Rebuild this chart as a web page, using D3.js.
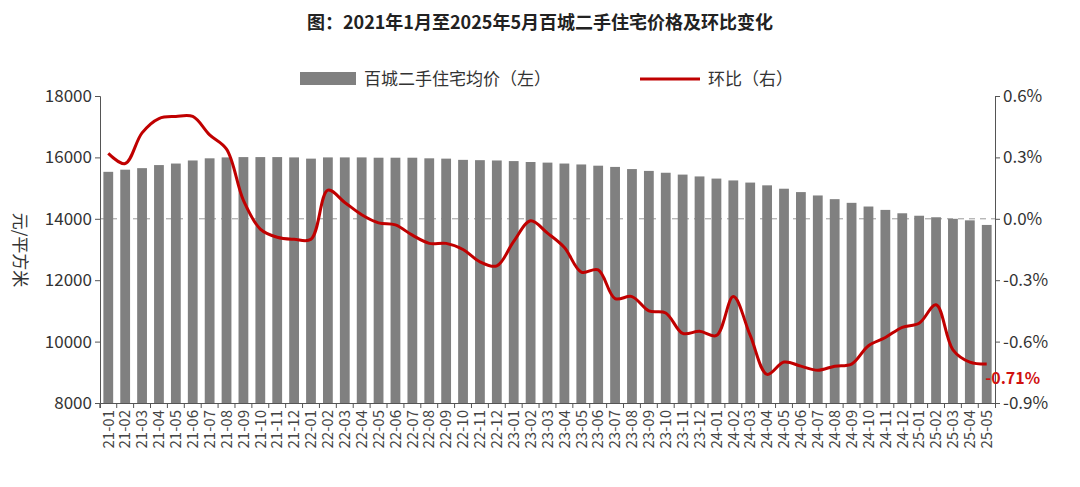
<!DOCTYPE html><html><head><meta charset="utf-8"><script src="https://cdn.jsdelivr.net/npm/d3@7"></script>
<style>body{margin:0;background:#fff}text{font-family:"Noto Sans CJK SC","Liberation Sans",sans-serif}</style></head><body><svg id="c" width="1080" height="487"></svg><script>
const months=[];for(let y=21;y<=25;y++)for(let m=1;m<=12;m++){if(y===25&&m>5)break;months.push(y+"-"+String(m).padStart(2,"0"));}
const prices=[15530,15600,15650,15750,15800,15900,15970,16000,16010,16010,16010,16000,15960,16000,16000,16000,15990,15990,15990,15970,15960,15920,15910,15900,15880,15850,15830,15800,15770,15730,15690,15620,15560,15500,15440,15380,15310,15250,15180,15090,14980,14870,14760,14640,14520,14400,14290,14180,14100,14050,14000,13950,13800];
const mom=[0.32,0.27,0.42,0.49,0.50,0.50,0.41,0.34,0.09,-0.05,-0.09,-0.10,-0.10,0.14,0.08,0.02,-0.02,-0.03,-0.08,-0.12,-0.12,-0.15,-0.21,-0.23,-0.11,-0.01,-0.07,-0.14,-0.26,-0.25,-0.39,-0.38,-0.45,-0.46,-0.56,-0.55,-0.57,-0.38,-0.57,-0.76,-0.70,-0.72,-0.74,-0.72,-0.71,-0.62,-0.58,-0.53,-0.51,-0.42,-0.64,-0.70,-0.71];
const leftTicks=[8000,10000,12000,14000,16000,18000];
const rightTicks=[-0.9,-0.6,-0.3,0,0.3,0.6];
const svg=d3.select("#c");
const L=100,R=995,T=96,B=403;
const x=d3.scaleBand().domain(months).range([L,R]).paddingInner(0.42).paddingOuter(0.2);
const yl=d3.scaleLinear().domain([8000,18000]).range([B,T]);
const yr=d3.scaleLinear().domain([-0.9,0.6]).range([B,T]);
svg.append("text").attr("x",540).attr("y",29).attr("text-anchor","middle").attr("font-size",18).attr("font-weight","bold").attr("fill","#222").text("图：2021年1月至2025年5月百城二手住宅价格及环比变化");
svg.append("line").attr("x1",L).attr("x2",R).attr("y1",yl(14000)).attr("y2",yl(14000)).attr("stroke","#999").attr("stroke-dasharray","6,5");
svg.selectAll(".b").data(prices).join("rect").attr("x",(d,i)=>x(months[i])).attr("width",x.bandwidth()).attr("y",d=>yl(d)).attr("height",d=>B-yl(d)).attr("fill","#808080");
svg.append("path").datum(mom).attr("d",d3.line().x((d,i)=>x(months[i])+x.bandwidth()/2).y(d=>yr(d)).curve(d3.curveCatmullRom)).attr("fill","none").attr("stroke","#c00000").attr("stroke-width",3);
const ga=svg.append("g").attr("transform",`translate(${L},0)`).call(d3.axisLeft(yl).tickValues(leftTicks).tickSize(5).tickFormat(d3.format("d")));
const gr=svg.append("g").attr("transform",`translate(${R},0)`).call(d3.axisRight(yr).tickValues(rightTicks).tickSize(5).tickFormat(d=>d.toFixed(1)+"%"));
const gx=svg.append("g").attr("transform",`translate(0,${B})`).call(d3.axisBottom(x).tickSize(5));
gx.selectAll("text").attr("transform","rotate(-90)").attr("x",-7).attr("y",0).attr("dy","0.35em").attr("text-anchor","end").attr("font-size",15).attr("fill","#444");
[ga,gr].forEach(g=>g.selectAll("text").attr("font-size",17).attr("fill","#333"));
[ga,gr,gx].forEach(g=>{g.selectAll("path,line").attr("stroke","#555");});
gx.selectAll(".tick line").attr("transform",`translate(${-x.step()/2},0)`);
svg.append("text").attr("transform","translate(14,250) rotate(90)").attr("text-anchor","middle").attr("font-size",17).attr("fill","#333").text("元/平方米");
svg.append("rect").attr("x",300).attr("y",72).attr("width",56).attr("height",13).attr("fill","#808080");
svg.append("text").attr("x",364).attr("y",85).attr("font-size",17).attr("fill","#333").text("百城二手住宅均价（左）");
svg.append("line").attr("x1",640).attr("x2",700).attr("y1",79).attr("y2",79).attr("stroke","#c00000").attr("stroke-width",3);
svg.append("text").attr("x",708).attr("y",85).attr("font-size",17).attr("fill","#333").text("环比（右）");
svg.append("text").attr("x",x(months[52])+x.bandwidth()/2+26).attr("y",yr(mom[52])+20).attr("text-anchor","middle").attr("font-size",16).attr("font-weight","bold").attr("fill","#d01010").text("-0.71%");
</script></body></html>
